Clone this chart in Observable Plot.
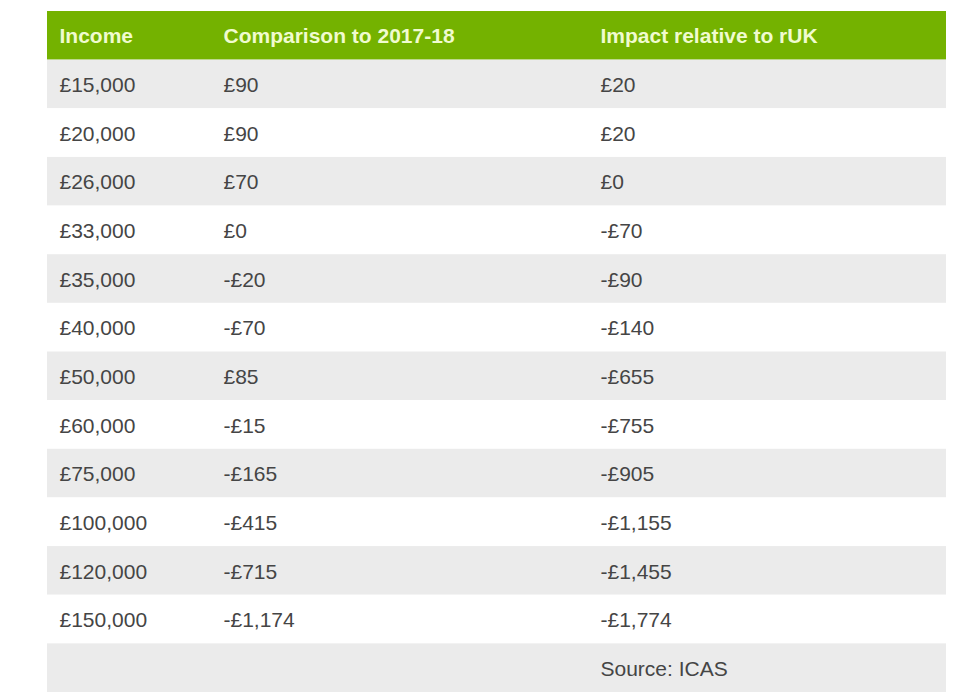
<!DOCTYPE html>
<html>
<head>
<meta charset="utf-8">
<script src="https://cdn.jsdelivr.net/npm/d3@7"></script>
<script src="https://cdn.jsdelivr.net/npm/@observablehq/plot@0.6"></script>
<style>
  html, body { margin: 0; padding: 0; background: #ffffff; }
  #chart svg { display: block; }
</style>
</head>
<body>
<div id="chart"></div>
<script>
// ---- data ----
const columns = ["Income", "Comparison to 2017-18", "Impact relative to rUK"];
const incomes = ["£15,000", "£20,000", "£26,000", "£33,000", "£35,000", "£40,000",
                 "£50,000", "£60,000", "£75,000", "£100,000", "£120,000", "£150,000"];
const comparison = ["£90", "£90", "£70", "£0", "-£20", "-£70",
                    "£85", "-£15", "-£165", "-£415", "-£715", "-£1,174"];
const impact = ["£20", "£20", "£0", "-£70", "-£90", "-£140",
                "-£655", "-£755", "-£905", "-£1,155", "-£1,455", "-£1,774"];
const sourceNote = "Source: ICAS";

// ---- layout (not data) ----
const colStart = [12, 176, 553];   // text offsets inside table (x scale units)
const tableWidth = 899;

const rowKeys = ["header", ...incomes.map((_, i) => "r" + i), "source"];
const bodyRows = incomes.map((inc, i) => ({key: "r" + i, vals: [inc, comparison[i], impact[i]]}));
const cells = bodyRows.flatMap(r => r.vals.map((v, c) => ({row: r.key, col: c, text: v})));
cells.push({row: "source", col: 2, text: sourceNote});
const headerCells = columns.map((t, c) => ({row: "header", col: c, text: t}));

function rowFill(k) {
  if (k === "header") return "#74b200";
  if (k === "source") return "#ebebeb";
  const i = +k.slice(1);
  return i % 2 === 0 ? "#ebebeb" : "#ffffff";
}

const chart = Plot.plot({
  width: 976,
  height: 700,
  margin: 0,
  style: {fontFamily: "'Liberation Sans', Arial, sans-serif", background: "#ffffff"},
  x: {type: "linear", domain: [0, tableWidth], range: [47, 946], axis: null},
  y: {type: "band", domain: rowKeys, range: [11, 692], padding: 0, round: false, axis: null},
  marks: [
    Plot.barX(rowKeys, {
      x1: () => 0, x2: () => tableWidth, y: d => d,
      fill: d => rowFill(d)
    }),
    Plot.text(headerCells, {
      x: d => colStart[d.col], y: "row", text: "text",
      textAnchor: "start", fill: "#f0fbcf", fontWeight: "bold", fontSize: 21, dy: 0
    }),
    Plot.text(cells, {
      x: d => colStart[d.col], y: "row", text: "text",
      textAnchor: "start", fill: "#454545", fontSize: 21, dy: 1
    })
  ]
});
document.getElementById("chart").appendChild(chart);
</script>
</body>
</html>
